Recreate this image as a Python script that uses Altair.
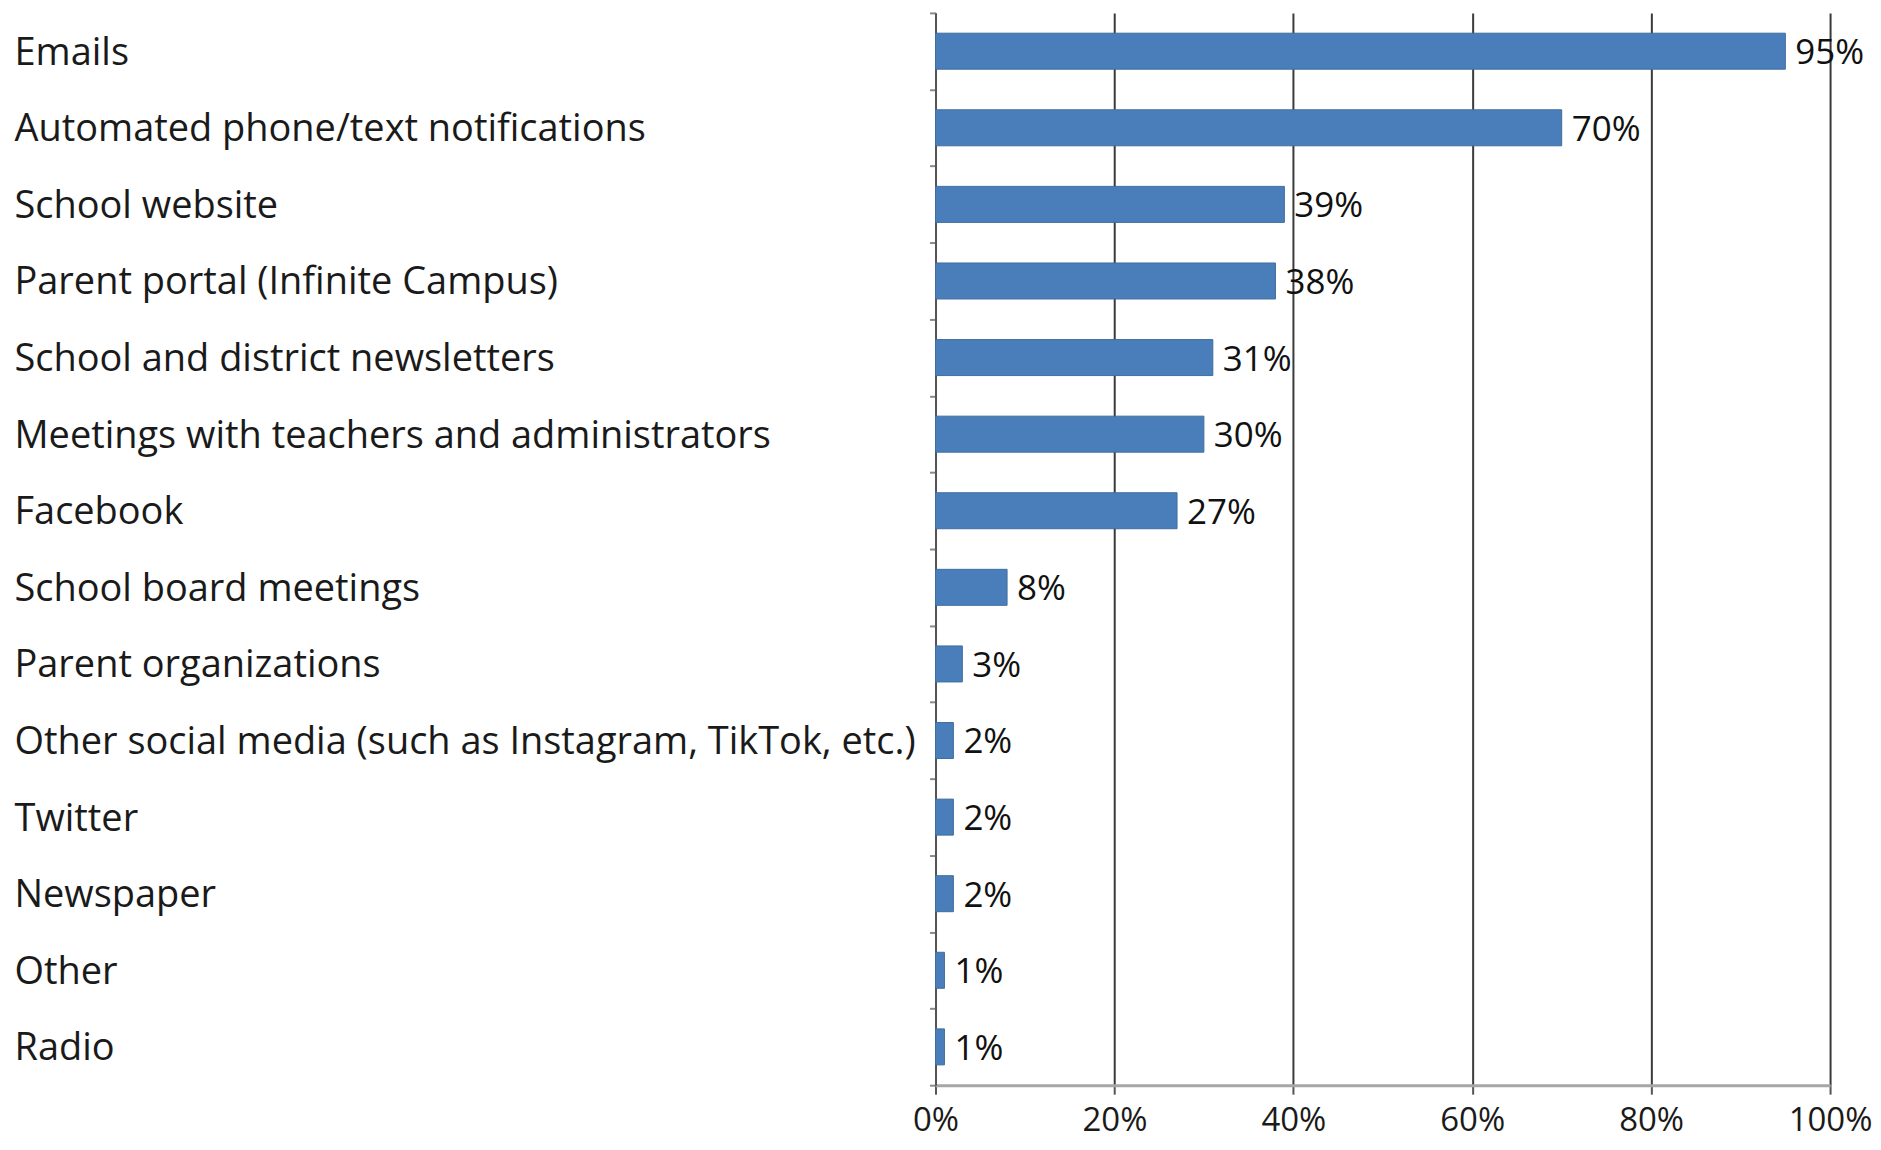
import altair as alt
import pandas as pd

categories = [
    "Emails",
    "Automated phone/text notifications",
    "School website",
    "Parent portal (Infinite Campus)",
    "School and district newsletters",
    "Meetings with teachers and administrators",
    "Facebook",
    "School board meetings",
    "Parent organizations",
    "Other social media (such as Instagram, TikTok, etc.)",
    "Twitter",
    "Newspaper",
    "Other",
    "Radio",
]
values = [95, 70, 39, 38, 31, 30, 27, 8, 3, 2, 2, 2, 1, 1]
x_ticks = [0, 20, 40, 60, 80, 100]

df = pd.DataFrame({"category": categories, "value": values})
df["label"] = df["value"].astype(str) + "%"

FONT = "Open Sans"

y_scale = alt.Scale(paddingInner=0, paddingOuter=0)
x_scale = alt.Scale(domain=[0, 100], nice=False)

y_enc = alt.Y(
    "category:N",
    sort=None,
    title=None,
    scale=y_scale,
    axis=alt.Axis(
        labelAlign="left",
        labelPadding=917,
        labelLimit=1200,
        labelFont=FONT,
        labelFontSize=38,
        labelColor="#1a1a1a",
        labelBaseline="middle",
        labelOffset=2,
        tickBand="extent",
        tickSize=6,
        tickColor="#8a8a8a",
        tickWidth=2,
        domainColor="#555555",
        domainWidth=2,
        grid=False,
    ),
)

x_enc = alt.X(
    "value:Q",
    title=None,
    scale=x_scale,
    axis=alt.Axis(
        values=x_ticks,
        labelExpr="datum.value + '%'",
        labelFont=FONT,
        labelFontSize=33,
        labelColor="#1a1a1a",
        labelPadding=10,
        labelFlush=False,
        tickSize=9,
        tickColor="#555555",
        tickWidth=2,
        domainColor="#a6a6a6",
        domainWidth=3,
        grid=True,
        gridColor="#3a3a3a",
        gridWidth=2,
    ),
)

bars = alt.Chart(df).mark_bar(
    color="#4a7ebb", stroke="#3f6d9f", strokeWidth=1,
    height=alt.RelativeBandSize(0.47),
).encode(x=x_enc, y=y_enc)

labels = alt.Chart(df).mark_text(
    align="left", baseline="middle", dx=10, dy=2, font=FONT, fontSize=35, color="#111111"
).encode(
    x=alt.X("value:Q", scale=x_scale, title=None),
    y=alt.Y("category:N", sort=None, scale=y_scale, title=None),
    text="label:N",
)

chart = (
    alt.layer(bars, labels)
    .properties(
        width=896,
        height=1074,
        autosize=alt.AutoSizeParams(type="none"),
        padding={"left": 929, "top": 4, "right": 43, "bottom": 56},
    )
    .configure_view(stroke=None)
)

chart.save("out.html", embed_options={"renderer": "svg", "actions": False})
